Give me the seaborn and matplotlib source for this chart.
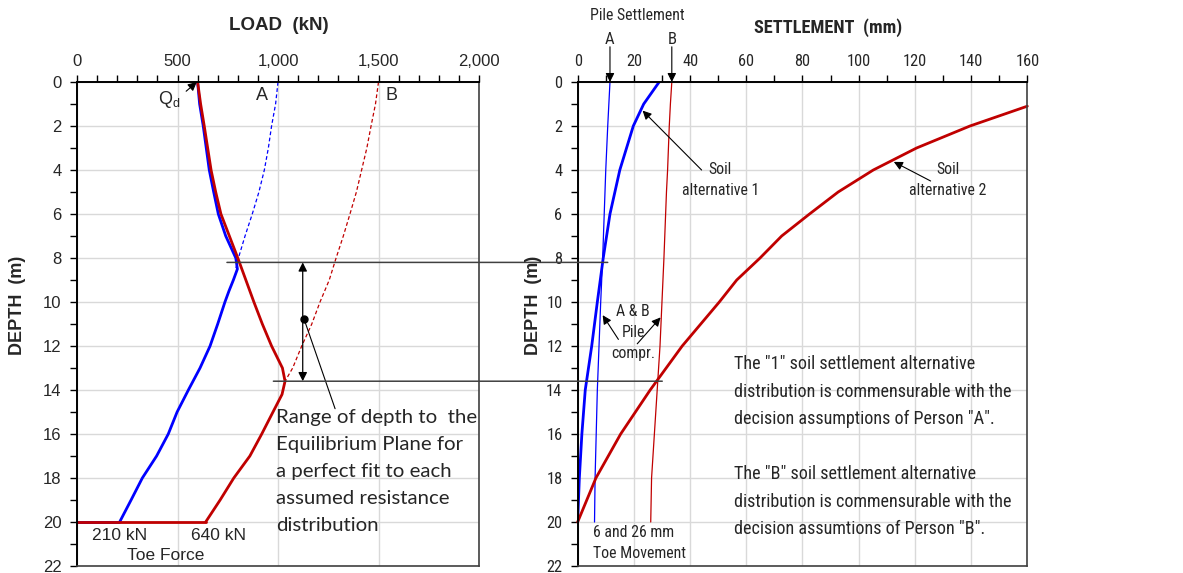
import matplotlib
matplotlib.use("Agg")
import matplotlib.pyplot as plt
from matplotlib.patches import ConnectionPatch
from matplotlib.ticker import MultipleLocator, StrMethodFormatter
import seaborn as sns

# load in pile (kN) vs depth (m), person A (blue) and person B (red)
depth_a = [0, 1, 2, 3, 4, 5, 6, 7, 8, 8.5, 9, 9.5, 10, 11, 12, 13, 14, 15, 16, 17, 18, 19, 20]
load_a = [600, 610, 628, 643, 658, 680, 703, 740, 790, 798, 778, 756, 736, 700, 662, 612, 554, 498, 454, 396, 325, 269, 212]
depth_b = [0, 1, 2, 3, 4, 5, 6, 7, 8, 9, 10, 11, 12, 13, 13.6, 14.2, 15, 16, 17, 18, 19, 20]
load_b = [600, 615, 633, 650, 667, 690, 716, 758, 800, 840, 880, 922, 968, 1022, 1035, 1020, 975, 919, 860, 780, 712, 640]

# resistance curves (dashed)
depth_res_a = [0, 1, 2, 3, 4, 5, 6, 7, 8, 8.5]
res_a = [1000, 988, 968, 952, 932, 905, 872, 836, 803, 790]
depth_res_b = [0, 1, 2, 3, 4, 5, 6, 7, 8, 9, 10, 11, 12, 13, 13.6]
res_b = [1500, 1485, 1463, 1442, 1416, 1390, 1358, 1325, 1289, 1255, 1209, 1168, 1118, 1073, 1035]

toe_depth = 20
toe_force = [210, 640]
eq_depths = [8.2, 13.6]

# settlement (mm) vs depth (m)
depth_pile_a = [0, 2, 4, 8, 10, 12, 14, 16, 18, 20]
pile_a = [11.5, 10.7, 10.0, 8.9, 8.2, 7.6, 7.0, 6.6, 6.2, 6.0]
depth_pile_b = [0, 1, 2, 4, 5, 8, 10, 12, 14, 16, 18, 20]
pile_b = [33.5, 33.0, 32.6, 32.0, 31.6, 30.7, 30.0, 29.3, 28.3, 27.3, 26.3, 26.0]
depth_soil1 = [0, 1, 2, 4, 6, 8, 10, 12, 14, 16, 18, 20]
soil1 = [29.0, 23.5, 19.8, 15.0, 11.5, 9.1, 7.0, 5.0, 2.7, 1.5, 0.6, 0]
depth_soil2 = [1.1, 2, 3, 4, 5, 6, 7, 8, 9, 10, 12, 14, 16, 18, 20]
soil2 = [160, 139.6, 120.6, 105.2, 92.7, 82.5, 72.6, 64.9, 56.6, 50.4, 37.2, 25.8, 15.3, 6.5, 0]

sns.set_style("white")
ARIAL = ['Liberation Sans', 'DejaVu Sans']
NARROW = ['Roboto Condensed', 'Liberation Sans Narrow', 'DejaVu Sans Condensed', 'Liberation Sans']
CALIBRI = ['Lato', 'DejaVu Sans']
plt.rcParams['font.family'] = ARIAL
plt.rcParams['mathtext.fontset'] = 'custom'
plt.rcParams['mathtext.rm'] = 'Liberation Sans'

BLUE = '#0000ff'
RED = '#c00000'

fig = plt.figure(figsize=(11.83, 5.73), dpi=100)
ax1 = fig.add_axes([0.0651, 0.0122, 0.3398, 0.8447])
ax2 = fig.add_axes([0.4883, 0.0122, 0.3801, 0.8447])


def style_axes(ax, xmax, major, minor, fam, size):
    ax.set_xlim(0, xmax)
    ax.set_ylim(22, 0)
    ax.xaxis.tick_top()
    ax.xaxis.set_major_locator(MultipleLocator(major))
    ax.xaxis.set_minor_locator(MultipleLocator(minor))
    ax.yaxis.set_major_locator(MultipleLocator(2))
    ax.yaxis.set_minor_locator(MultipleLocator(1))
    ax.xaxis.set_major_formatter(StrMethodFormatter('{x:,.0f}'))
    ax.tick_params(axis='both', which='both', direction='out', length=5, width=1,
                   color='black', labelsize=size, labelfontfamily=fam)
    ax.tick_params(axis='x', which='both', top=True, bottom=False, pad=4.5)
    ax.tick_params(axis='y', which='both', left=True, right=False, pad=6)
    ax.grid(True, which='major', color='#d9d9d9', lw=1)
    ax.set_axisbelow(True)
    for side in ['top', 'left']:
        ax.spines[side].set_color('black')
        ax.spines[side].set_linewidth(1.4)
    for side in ['right', 'bottom']:
        ax.spines[side].set_color('#404040')
        ax.spines[side].set_linewidth(1.2)
    ax.set_xlabel('')
    ax.set_ylabel('')


# ---- left: load distribution ----
sns.lineplot(x=res_a, y=depth_res_a, ax=ax1, color=BLUE, lw=0.9, ls=(0, (3, 2)), sort=False, estimator=None)
sns.lineplot(x=res_b, y=depth_res_b, ax=ax1, color=RED, lw=0.9, ls=(0, (3, 2)), sort=False, estimator=None)
sns.lineplot(x=load_a, y=depth_a, ax=ax1, color=BLUE, lw=2, sort=False, estimator=None)
sns.lineplot(x=[0, toe_force[0]], y=[toe_depth, toe_depth], ax=ax1, color=BLUE, lw=2, sort=False, estimator=None)
sns.lineplot(x=load_b, y=depth_b, ax=ax1, color=RED, lw=2, sort=False, estimator=None)
sns.lineplot(x=[0, toe_force[1]], y=[toe_depth, toe_depth], ax=ax1, color=RED, lw=2, sort=False, estimator=None)
style_axes(ax1, 2000, 500, 100, ARIAL, 12)

arrow_kw = dict(arrowstyle='-|>', color='black', lw=0.8, mutation_scale=13, shrinkA=0, shrinkB=0)

ax1.text(403, 0.78, r'Q$_{\mathregular{d}}$', fontsize=13, va='center', ha='left')
ax1.annotate('', xy=(596, 0), xytext=(543, 0.42), arrowprops=arrow_kw)
ax1.text(919, 0.62, 'A', fontsize=13, ha='center', va='center')
ax1.text(1566, 0.62, 'B', fontsize=13, ha='center', va='center')
ax1.text(toe_force[0], 20.6, f'{toe_force[0]} kN', fontsize=12.5, ha='center', va='center')
ax1.text(toe_force[1] + 66, 20.6, f'{toe_force[1]} kN', fontsize=12.5, ha='center', va='center')
ax1.text(443, 21.5, 'Toe Force', fontsize=12.5, ha='center', va='center')

ax1.annotate('', xy=(1123, eq_depths[0]), xytext=(1123, eq_depths[1]),
             arrowprops=dict(arrowstyle='<|-|>', color='black', lw=0.9, mutation_scale=13,
                             shrinkA=0, shrinkB=0))
ax1.plot([1129], [10.76], 'o', color='black', ms=5)
ax1.plot([1129, 1284], [10.76, 14.85], color='black', lw=0.8)
ax1.text(990, 14.85, 'Range of depth to  the\nEquilibrium Plane for\na perfect fit to each\nassumed resistance\ndistribution',
         fontsize=14.7, family=CALIBRI, ha='left', va='top', linespacing=1.72)

# ---- right: settlement ----
sns.lineplot(x=pile_a, y=depth_pile_a, ax=ax2, color=BLUE, lw=0.9, sort=False, estimator=None)
sns.lineplot(x=pile_b, y=depth_pile_b, ax=ax2, color=RED, lw=0.9, sort=False, estimator=None)
sns.lineplot(x=soil1, y=depth_soil1, ax=ax2, color=BLUE, lw=2, sort=False, estimator=None)
sns.lineplot(x=soil2, y=depth_soil2, ax=ax2, color=RED, lw=2, sort=False, estimator=None, clip_on=False)
style_axes(ax2, 160, 20, 10, NARROW, 11.8)

NS = 11.4
ax2.text(50.8, 4.45, 'Soil\nalternative 1', fontsize=NS, family=NARROW, ha='center', va='center', linespacing=1.55)
ax2.annotate('', xy=(23.1, 1.3), xytext=(44.1, 4.0), arrowprops=arrow_kw)
ax2.text(131.7, 4.45, 'Soil\nalternative 2', fontsize=NS, family=NARROW, ha='center', va='center', linespacing=1.55)
ax2.annotate('', xy=(112.5, 3.63), xytext=(125.6, 4.5), arrowprops=arrow_kw)
ax2.text(19.8, 11.4, 'A & B\nPile\ncompr.', fontsize=NS, family=NARROW, ha='center', va='center', linespacing=1.5)
ax2.annotate('', xy=(8.9, 10.6), xytext=(14.5, 11.7), arrowprops=arrow_kw)
ax2.annotate('', xy=(29.5, 10.7), xytext=(21.2, 11.9), arrowprops=arrow_kw)
ax2.text(5.3, 20.95, '6 and 26 mm\nToe Movement', fontsize=NS, family=NARROW, ha='left', va='center', linespacing=1.5)

ax2.text(21.1, -3.0, 'Pile Settlement', fontsize=NS, family=NARROW, ha='center', va='center', clip_on=False)
ax2.text(pile_a[0], -1.95, 'A', fontsize=12, family=NARROW, ha='center', va='center', clip_on=False)
ax2.text(pile_b[0], -1.95, 'B', fontsize=12, family=NARROW, ha='center', va='center', clip_on=False)
ax2.annotate('', xy=(pile_a[0], 0), xytext=(pile_a[0], -1.6), annotation_clip=False, arrowprops=arrow_kw)
ax2.annotate('', xy=(pile_b[0], 0), xytext=(pile_b[0], -1.6), annotation_clip=False, arrowprops=arrow_kw)

ax2.text(55.7, 12.42, 'The "1" soil settlement alternative\ndistribution is commensurable with the\n'
         'decision assumptions of Person "A".', fontsize=13.1, family=NARROW, ha='left', va='top', linespacing=1.68)
ax2.text(55.7, 17.42, 'The "B" soil settlement alternative\ndistribution is commensurable with the\n'
         'decision assumtions of Person "B".', fontsize=13.1, family=NARROW, ha='left', va='top', linespacing=1.68)

# equilibrium depth lines running across both panels
for d, xl, xr in zip(eq_depths, [746, 977], [10.7, 30.1]):
    con = ConnectionPatch(xyA=(xl, d), coordsA=ax1.transData, xyB=(xr, d), coordsB=ax2.transData,
                          color='#404040', lw=1.1)
    fig.add_artist(con)

# titles and axis labels
fig.text(279 / 1183, 1 - 26 / 573, 'LOAD  (kN)', fontsize=13.5, fontweight='bold', ha='center', va='center')
fig.text(828 / 1183, 1 - 28 / 573, 'SETTLEMENT  (mm)', fontsize=13.2, fontweight='bold', family=NARROW,
         ha='center', va='center')
fig.text(18 / 1183, 1 - 305 / 573, 'DEPTH  (m)', fontsize=13, fontweight='bold', rotation=90, ha='center', va='center')
fig.text(534 / 1183, 1 - 305 / 573, 'DEPTH  (m)', fontsize=13, fontweight='bold', rotation=90, ha='center', va='center')

fig.savefig('out.png', dpi=100)
